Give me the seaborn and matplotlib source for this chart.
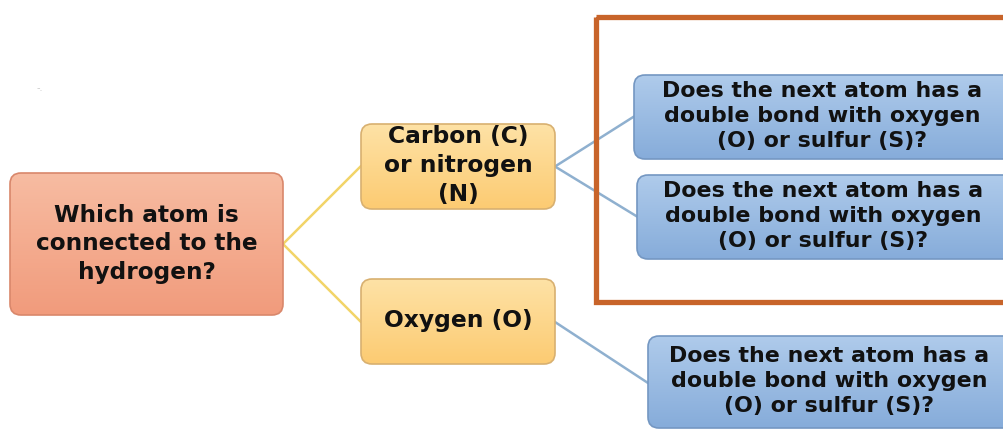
import numpy as np
import pandas as pd
import seaborn as sns
import matplotlib.pyplot as plt
from matplotlib.patches import FancyBboxPatch, Rectangle
from matplotlib.colors import LinearSegmentedColormap

sns.set_theme(style="white")
plt.rcParams['font.family'] = ['DejaVu Sans']

# Node labels
root_label = "Which atom is\nconnected to the\nhydrogen?"
atom_labels = ["Carbon (C)\nor nitrogen\n(N)", "Oxygen (O)"]
question_label = "Does the next atom has a\ndouble bond with oxygen\n(O) or sulfur (S)?"
question_parent = [0, 0, 1]  # which atom node each question hangs from

# Layout (pixel coords of the picture)
root_box = (10, 173, 283, 315)
atom_boxes = [(361, 124, 555, 209), (361, 279, 555, 364)]
question_boxes = [(634, 75, 1015, 159), (637, 175, 1015, 259), (648, 336, 1015, 428)]
frame = (596, 17, 1025, 302)

fig = plt.figure(figsize=(10.04, 4.29), dpi=100)
ax = fig.add_axes([0, 0, 1, 1])


def grad_box(b, top, bottom, edge, label, size, dy=0):
    x0, y0, x1, y1 = b
    patch = FancyBboxPatch((x0, y0), x1 - x0, y1 - y0,
                           boxstyle="round,pad=0,rounding_size=11",
                           fc='none', ec=edge, lw=1.2, zorder=3)
    ax.add_patch(patch)
    cmap = LinearSegmentedColormap.from_list('g', [top, bottom])
    im = ax.imshow(np.linspace(0, 1, 256)[:, None], cmap=cmap, aspect='auto',
                   extent=(x0, x1, y1, y0), zorder=2, interpolation='bilinear')
    im.set_clip_path(patch)
    cx = (x0 + 1010) / 2 if x1 > 1004 else (x0 + x1) / 2
    ax.text(cx, (y0 + y1) / 2 + dy, label, ha='center', va='center', fontsize=size,
            fontweight='bold', color='#111111', linespacing=1.32, zorder=5)


# connectors
edges = []
rx, ry = root_box[2], (root_box[1] + root_box[3]) / 2
for i, b in enumerate(atom_boxes):
    edges.append(dict(edge=f"r{i}", x=rx, y=ry, kind='root'))
    edges.append(dict(edge=f"r{i}", x=b[0], y=(b[1] + b[3]) / 2 - 0.5 if i == 0 else b[1] + 43, kind='root'))
for j, b in enumerate(question_boxes):
    a = atom_boxes[question_parent[j]]
    ay = (a[1] + a[3]) / 2 if question_parent[j] == 0 else a[1] + 43
    edges.append(dict(edge=f"q{j}", x=a[2], y=ay, kind='atom'))
    edges.append(dict(edge=f"q{j}", x=b[0], y=(b[1] + b[3]) / 2 - 0.5 if j < 2 else b[1] + 47, kind='atom'))
df = pd.DataFrame(edges)
sns.lineplot(data=df, x='x', y='y', units='edge', estimator=None, hue='kind',
             palette={'root': '#F2D468', 'atom': '#8FB0CF'}, lw=1.8,
             legend=False, sort=False, ax=ax, zorder=1)

grad_box(root_box, '#F7BCA2', '#F19B7C', '#D9876B', root_label, 16.7)
for b, lab in zip(atom_boxes, atom_labels):
    grad_box(b, '#FEE2A6', '#FCCB72', '#D8B070', lab, 16.8, dy=-1)
for b in question_boxes:
    grad_box(b, '#AFCBEB', '#86ACDA', '#7497C2', question_label, 15.9, dy=-1)

ax.add_patch(Rectangle((frame[0], frame[1]), frame[2] - frame[0], frame[3] - frame[1],
                       fill=False, ec='#C8642A', lw=3.8, zorder=6))

ax.text(40, 88, "-.", color='#cccccc', fontsize=7, ha='center', va='center')

ax.set_xlim(0, 1004)
ax.set_ylim(429, 0)
ax.axis('off')
fig.savefig('out.png', dpi=100, facecolor='white')
